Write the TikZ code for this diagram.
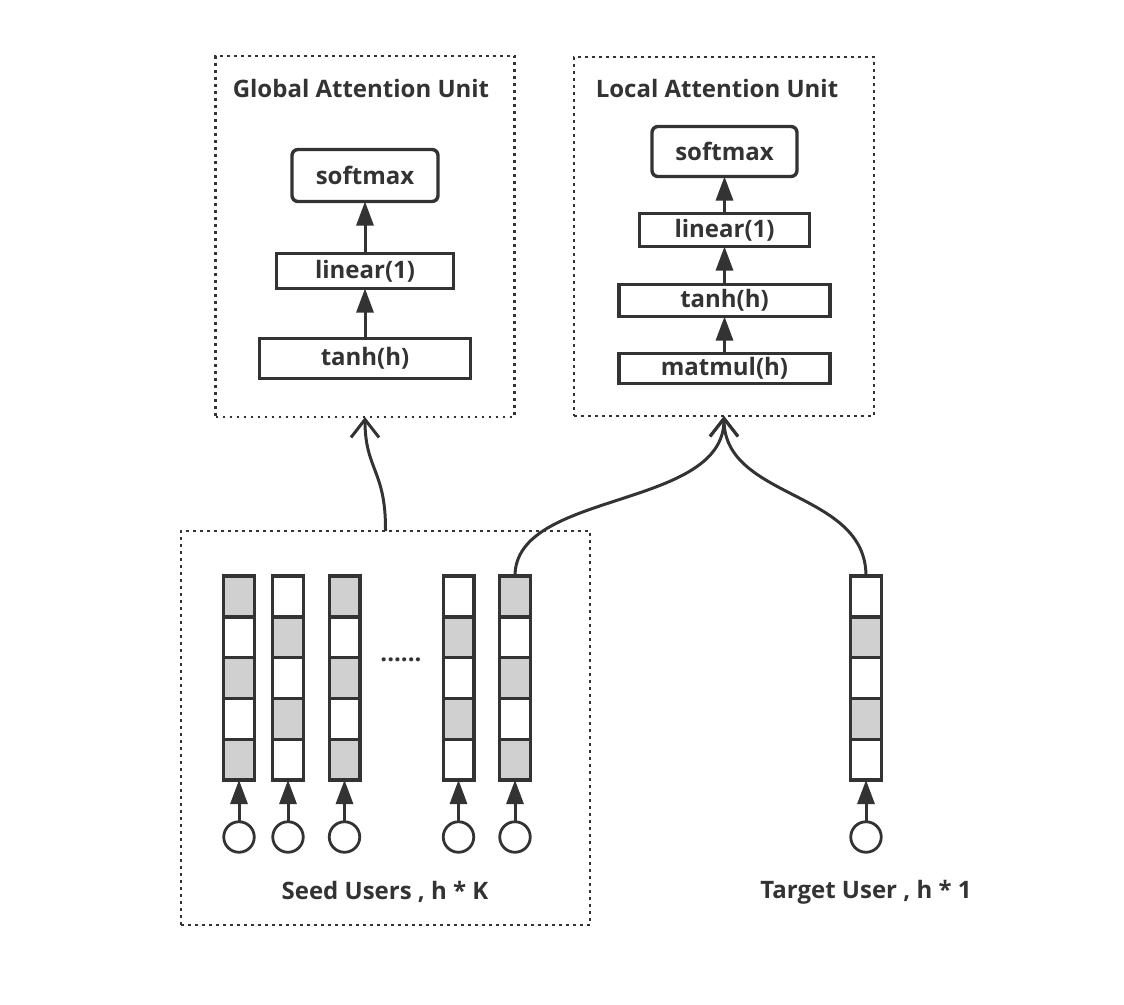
\documentclass[tikz,border=0pt]{standalone}
\usepackage{fontspec}
\setmainfont{Open Sans}
\usetikzlibrary{arrows.meta}
\definecolor{dk}{RGB}{51,51,51}
\definecolor{cellgray}{RGB}{208,208,208}
\begin{document}
\begin{tikzpicture}[x=1pt,y=-1pt,
  container/.style={draw=dk, line width=2.6pt, dash pattern=on 2.6pt off 4.4pt, inner sep=0pt, outer sep=0pt},
  opbox/.style={draw=dk, line width=3.4pt, fill=white, font=\fontsize{24}{28}\selectfont\bfseries, text=dk, inner sep=0pt, outer sep=0pt},
  cell/.style={draw=dk, line width=3.4pt, minimum width=30.6pt, minimum height=40.8pt, inner sep=0pt, outer sep=0pt},
  unit/.style={circle, draw=dk, line width=2.8pt, minimum size=30.5pt, inner sep=0pt, outer sep=0pt},
  feed/.style={-{Triangle[length=24pt,width=17pt]}, color=dk, line width=3pt},
  link/.style={-{Straight Barb[length=18pt,width=28pt]}, color=dk, line width=3pt},
  title/.style={font=\fontsize{24}{28}\selectfont\bfseries, text=dk, inner sep=0pt}]
\fill[white] (0,0) rectangle (1124,1004);
\useasboundingbox (0,0) rectangle (1124,1004);

% containers
\node[container, minimum width=299pt, minimum height=361pt] (gbox) at (365,236.5) {};
\node[container, minimum width=300pt, minimum height=359pt] (lbox) at (724,236.5) {};
\node[container, minimum width=409pt, minimum height=394pt] (seed) at (385.5,728) {};

% titles
\node[title] (gtitle) at (361,88) {Global Attention Unit};
\node[title] (ltitle) at (717,88) {Local Attention Unit};

% global unit
\node[opbox, rounded corners=6pt, minimum width=146pt, minimum height=52pt] (gsoft) at (365,175.5) {softmax};
\node[opbox, minimum width=177pt, minimum height=35pt] (glin) at (365,271) {linear(1)};
\node[opbox, minimum width=211pt, minimum height=40pt] (gtanh) at (365,358.5) {tanh(h)};
\draw[feed] (gtanh) -- (glin);
\draw[feed] (glin) -- (gsoft);

% local unit
\node[opbox, rounded corners=6pt, minimum width=145pt, minimum height=50pt] (lsoft) at (724.5,151.5) {softmax};
\node[opbox, minimum width=170pt, minimum height=33pt] (llin) at (724.5,230) {linear(1)};
\node[opbox, minimum width=211pt, minimum height=32pt] (ltanh) at (724.5,300.5) {tanh(h)};
\node[opbox, minimum width=211pt, minimum height=30pt] (lmat) at (724.5,368.5) {matmul(h)};
\draw[feed] (lmat) -- (ltanh);
\draw[feed] (ltanh) -- (llin);
\draw[feed] (llin) -- (lsoft);

% user vectors
\foreach \i/\x/\p in {1/239/1, 2/288/0, 3/344.5/1, 4/458.5/0, 5/515/1, 6/866/0} {
  \foreach \k in {1,...,5} {
    \pgfmathtruncatemacro\g{mod(\k+\p,2)}
    \ifnum\g=0 \def\fc{cellgray}\else\def\fc{white}\fi
    \node[cell, fill=\fc] (c\i-\k) at (\x, {576+40.8*(\k-0.5)}) {};
  }
  \node[unit] (u\i) at (\x,837) {};
  \draw[feed] (u\i) -- (c\i-5);
}

\node[title] (dots) at (401,660) {......};
\node[title] (seedlab) at (385,892) {Seed Users , h * K};
\node[title] (targetlab) at (866,892) {Target User , h * 1};

% connectors
\draw[link] (seed.north) .. controls (386,470) and (365,470) .. (gbox.south);
\draw[link] (c5-1.north) .. controls (515,490) and (724,510) .. (lbox.south);
\draw[link] (c6-1.north) .. controls (866,490) and (724,500) .. (lbox.south);
\end{tikzpicture}
\end{document}
